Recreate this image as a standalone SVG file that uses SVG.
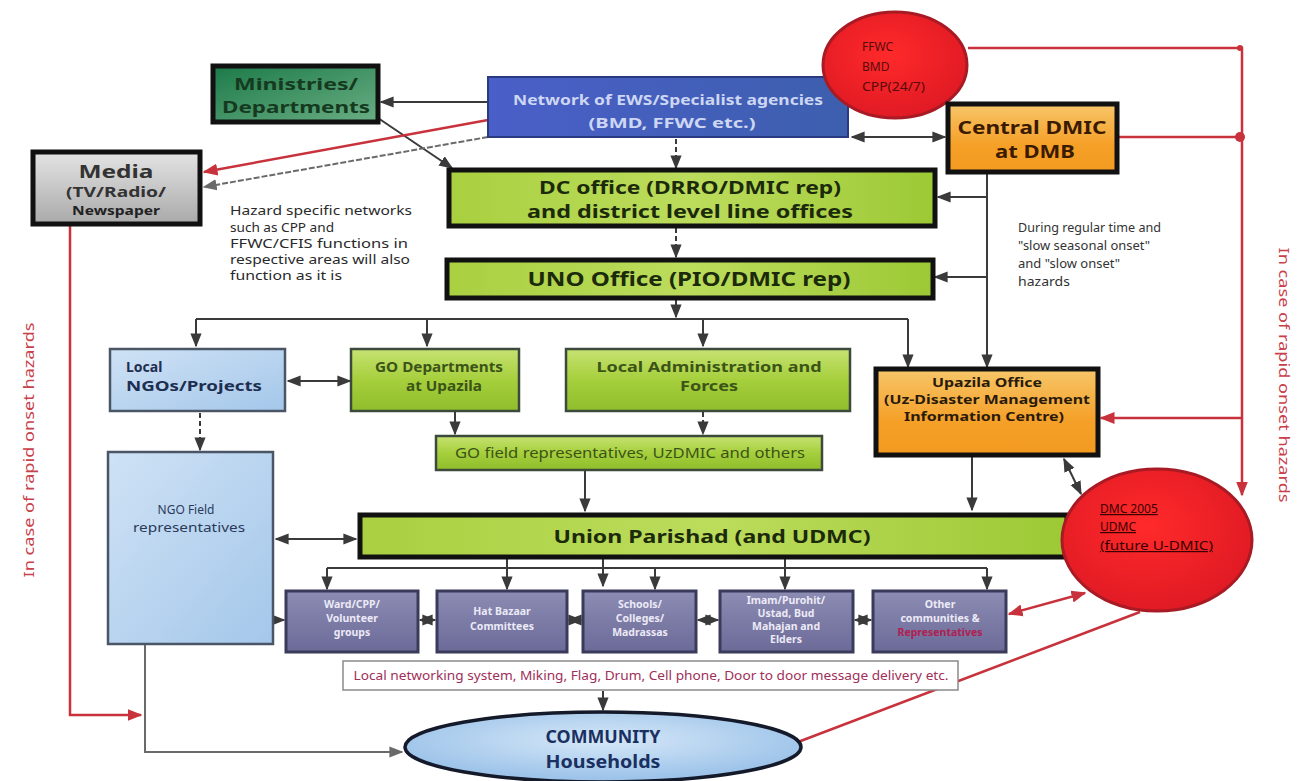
<svg xmlns="http://www.w3.org/2000/svg" width="1297" height="781" viewBox="0 0 1297 781">
<defs>
<style>
text{font-family:"Noto Sans","Open Sans","DejaVu Sans",sans-serif;}
.b{font-weight:bold;}
.c{text-anchor:middle;}
.ln{fill:none;stroke:#3a3a3a;stroke-width:2;}
.lnd{fill:none;stroke:#3a3a3a;stroke-width:2;stroke-dasharray:5 3;}
.red{fill:none;stroke:#c8323c;stroke-width:2.5;}
.gry{fill:none;stroke:#6a6a6a;stroke-width:2;}
.thick{stroke:#111;stroke-width:5;}
.thin{stroke:#3c4a3c;stroke-width:2.5;}
</style>
<linearGradient id="gLime" x1="0" y1="0" x2="0" y2="1"><stop offset="0" stop-color="#c6e272"/><stop offset="0.5" stop-color="#a6cf3c"/><stop offset="1" stop-color="#8fbd2c"/></linearGradient>
<linearGradient id="gLimeH" x1="0" y1="0" x2="1" y2="0"><stop offset="0" stop-color="#a9d040"/><stop offset="0.5" stop-color="#bcdc5c"/><stop offset="1" stop-color="#9dc935"/></linearGradient>
<linearGradient id="gOrange" x1="0" y1="0" x2="0" y2="1"><stop offset="0" stop-color="#f7c66a"/><stop offset="0.6" stop-color="#f5a028"/><stop offset="1" stop-color="#f39a20"/></linearGradient>
<linearGradient id="gBlueL" x1="0" y1="0" x2="1" y2="1"><stop offset="0" stop-color="#cfe2f5"/><stop offset="1" stop-color="#a4c7ea"/></linearGradient>
<linearGradient id="gGray" x1="0" y1="0" x2="0" y2="1"><stop offset="0" stop-color="#e4e4e4"/><stop offset="1" stop-color="#a9a9a9"/></linearGradient>
<linearGradient id="gGreen" x1="0" y1="0" x2="1" y2="1"><stop offset="0" stop-color="#1c7a48"/><stop offset="1" stop-color="#6aae84"/></linearGradient>
<linearGradient id="gBlue" x1="0" y1="0" x2="1" y2="0"><stop offset="0" stop-color="#4a5fc8"/><stop offset="1" stop-color="#3d5fae"/></linearGradient>
<linearGradient id="gPurp" x1="0" y1="0" x2="0" y2="1"><stop offset="0" stop-color="#8c8cb4"/><stop offset="1" stop-color="#6c6a98"/></linearGradient>
<radialGradient id="gRed" cx="0.45" cy="0.4" r="0.6"><stop offset="0" stop-color="#ff2a2a"/><stop offset="1" stop-color="#e01a24"/></radialGradient>
<radialGradient id="gComm" cx="0.5" cy="0.4" r="0.6"><stop offset="0" stop-color="#d6e8f8"/><stop offset="1" stop-color="#98c0e8"/></radialGradient>
<marker id="a" viewBox="0 0 10 10" refX="9" refY="5" markerWidth="7" markerHeight="7" orient="auto-start-reverse"><path d="M0,1 L10,5 L0,9 z" fill="#3a3a3a"/></marker>
<marker id="ar" viewBox="0 0 10 10" refX="9" refY="5" markerWidth="6" markerHeight="6" orient="auto-start-reverse"><path d="M0,1 L10,5 L0,9 z" fill="#c8323c"/></marker>
<marker id="ag" viewBox="0 0 10 10" refX="9" refY="5" markerWidth="7" markerHeight="7" orient="auto-start-reverse"><path d="M0,1 L10,5 L0,9 z" fill="#6a6a6a"/></marker>
<marker id="dr" viewBox="0 0 10 10" refX="5" refY="5" markerWidth="5" markerHeight="5"><circle cx="5" cy="5" r="4" fill="#c8323c"/></marker>
</defs>
<rect width="1297" height="781" fill="#ffffff"/>

<g id="connectors">
<line class="ln" x1="488" y1="102" x2="381" y2="102" marker-end="url(#a)"/>
<line class="ln" x1="378" y1="118" x2="452" y2="168" marker-end="url(#a)"/>
<line class="red" x1="488" y1="120" x2="204" y2="172" marker-end="url(#ar)"/>
<line class="gry" x1="488" y1="137" x2="204" y2="187" stroke-dasharray="6 2" marker-end="url(#ag)"/>
<line class="lnd" x1="676" y1="139" x2="676" y2="168" marker-end="url(#a)"/>
<line class="ln" x1="852" y1="137" x2="945" y2="137" marker-start="url(#a)" marker-end="url(#a)"/>
<path class="red" d="M968,48 H1242 V495" marker-end="url(#ar)"/>
<line class="red" x1="1117" y1="137" x2="1240" y2="137" marker-end="url(#dr)"/>
<circle cx="1240" cy="48" r="3" fill="#c8323c"/>
<line class="red" x1="1242" y1="418" x2="1101" y2="418" marker-end="url(#ar)"/>
<line class="ln" x1="987" y1="172" x2="987" y2="367" marker-end="url(#a)"/>
<line class="ln" x1="987" y1="197" x2="938" y2="197" marker-end="url(#a)"/>
<line class="ln" x1="987" y1="277" x2="935" y2="277" marker-end="url(#a)"/>
<line class="lnd" x1="676" y1="228" x2="676" y2="257" marker-end="url(#a)"/>
<line class="ln" x1="676" y1="300" x2="676" y2="317" marker-end="url(#a)"/>
<line class="ln" x1="196" y1="319" x2="908" y2="319"/>
<line class="ln" x1="196" y1="319" x2="196" y2="346" marker-end="url(#a)"/>
<line class="ln" x1="427" y1="319" x2="427" y2="346" marker-end="url(#a)"/>
<line class="ln" x1="703" y1="319" x2="703" y2="346" marker-end="url(#a)"/>
<line class="ln" x1="908" y1="319" x2="908" y2="367" marker-end="url(#a)"/>
<line class="ln" x1="288" y1="381" x2="350" y2="381" marker-start="url(#a)" marker-end="url(#a)"/>
<line class="lnd" x1="200" y1="413" x2="200" y2="450" marker-end="url(#a)"/>
<line class="ln" x1="455" y1="412" x2="455" y2="434" marker-end="url(#a)"/>
<line class="lnd" x1="703" y1="412" x2="703" y2="434" marker-end="url(#a)"/>
<line class="ln" x1="585" y1="471" x2="585" y2="511" marker-end="url(#a)"/>
<line class="ln" x1="276" y1="539" x2="356" y2="539" marker-start="url(#a)" marker-end="url(#a)"/>
<line class="ln" x1="972" y1="456" x2="972" y2="510" marker-end="url(#a)"/>
<line class="ln" x1="1064" y1="459" x2="1081" y2="494" marker-start="url(#a)" marker-end="url(#a)"/>
<line class="ln" x1="327" y1="568" x2="987" y2="568"/>
<line class="ln" x1="507" y1="558" x2="507" y2="568"/>
<line class="ln" x1="603" y1="558" x2="603" y2="568"/>
<line class="ln" x1="785" y1="558" x2="785" y2="568"/>
<line class="ln" x1="327" y1="568" x2="327" y2="589" marker-end="url(#a)"/>
<line class="ln" x1="507" y1="568" x2="507" y2="589" marker-end="url(#a)"/>
<line class="ln" x1="603" y1="568" x2="603" y2="586" marker-end="url(#a)"/>
<line class="ln" x1="655" y1="568" x2="655" y2="589" marker-end="url(#a)"/>
<line class="ln" x1="785" y1="568" x2="785" y2="589" marker-end="url(#a)"/>
<line class="ln" x1="987" y1="568" x2="987" y2="589" marker-end="url(#a)"/>
<line class="ln" x1="275" y1="620" x2="284" y2="620" marker-end="url(#a)"/>
<line class="ln" x1="420" y1="620" x2="435" y2="620" marker-start="url(#a)" marker-end="url(#a)"/>
<line class="ln" x1="569" y1="620" x2="581" y2="620" marker-start="url(#a)" marker-end="url(#a)"/>
<line class="ln" x1="698" y1="620" x2="718" y2="620" marker-start="url(#a)" marker-end="url(#a)"/>
<line class="ln" x1="855" y1="620" x2="871" y2="620" marker-start="url(#a)" marker-end="url(#a)"/>
<line class="red" x1="1085" y1="593" x2="1009" y2="614" marker-start="url(#ar)" marker-end="url(#ar)"/>
<line class="ln" x1="603" y1="691" x2="603" y2="710" marker-end="url(#a)"/>
<path class="red" d="M70,225 V715 H141" marker-end="url(#ar)"/>
<path class="gry" d="M145,645 V752 H402" marker-end="url(#ag)"/>
<line class="red" x1="1140" y1="612" x2="798" y2="742"/>
</g>

<g id="ministries">
<rect x="213" y="66" width="165" height="56" fill="url(#gGreen)" class="thick"/>
<text x="296" y="90" class="b c" font-size="16" fill="#163a20" textLength="124" lengthAdjust="spacingAndGlyphs">Ministries/</text>
<text x="296" y="113" class="b c" font-size="16" fill="#163a20" textLength="148" lengthAdjust="spacingAndGlyphs">Departments</text>
</g>

<g id="ews-agencies">
<rect x="488" y="77" width="360" height="60" fill="url(#gBlue)" stroke="#2a3a80" stroke-width="2"/>
<text x="668" y="105" class="b c" font-size="15" fill="#cdd6f2" textLength="310" lengthAdjust="spacingAndGlyphs">Network of EWS/Specialist agencies</text>
<text x="672" y="128" class="b c" font-size="15" fill="#cdd6f2" textLength="167" lengthAdjust="spacingAndGlyphs">(BMD, FFWC etc.)</text>
</g>

<g id="ews-red">
<ellipse cx="895" cy="65" rx="72" ry="53" fill="url(#gRed)" stroke="#a81a24" stroke-width="3"/>
<text x="862" y="51" font-size="12" fill="#5a0a0a">FFWC</text>
<text x="862" y="71" font-size="12" fill="#5a0a0a">BMD</text>
<text x="862" y="91" font-size="12" fill="#5a0a0a" textLength="63" lengthAdjust="spacingAndGlyphs">CPP(24/7)</text>
</g>

<g id="central-dmic">
<rect x="948" y="104" width="169" height="68" fill="url(#gOrange)" class="thick"/>
<text x="1032" y="134" class="b c" font-size="18" fill="#3a1a00" textLength="149" lengthAdjust="spacingAndGlyphs">Central DMIC</text>
<text x="1035" y="158" class="b c" font-size="18" fill="#3a1a00" textLength="80" lengthAdjust="spacingAndGlyphs">at DMB</text>
</g>

<g id="media">
<rect x="33" y="152" width="167" height="72" fill="url(#gGray)" class="thick"/>
<text x="116" y="178" class="b c" font-size="18" fill="#333" textLength="75" lengthAdjust="spacingAndGlyphs">Media</text>
<text x="116" y="197" class="b c" font-size="14" fill="#333" textLength="100" lengthAdjust="spacingAndGlyphs">(TV/Radio/</text>
<text x="116" y="215" class="b c" font-size="12" fill="#222" textLength="88" lengthAdjust="spacingAndGlyphs">Newspaper</text>
</g>

<g id="dc-office">
<rect x="449" y="170" width="486" height="56" fill="url(#gLimeH)" class="thick"/>
<text x="690" y="194" class="b c" font-size="18" fill="#1c2a0c" textLength="302" lengthAdjust="spacingAndGlyphs">DC office (DRRO/DMIC rep)</text>
<text x="690" y="218" class="b c" font-size="18" fill="#1c2a0c" textLength="326" lengthAdjust="spacingAndGlyphs">and district level line offices</text>
</g>

<g id="hazard-note">
<text x="230" y="215" font-size="13" fill="#2a2a2a" textLength="182" lengthAdjust="spacingAndGlyphs">Hazard specific networks</text>
<text x="230" y="232" font-size="13" fill="#2a2a2a" textLength="104" lengthAdjust="spacingAndGlyphs">such as CPP and</text>
<text x="230" y="248" font-size="13" fill="#2a2a2a" textLength="178" lengthAdjust="spacingAndGlyphs">FFWC/CFIS functions in</text>
<text x="230" y="264" font-size="13" fill="#2a2a2a" textLength="180" lengthAdjust="spacingAndGlyphs">respective areas will also</text>
<text x="230" y="280" font-size="13" fill="#2a2a2a" textLength="112" lengthAdjust="spacingAndGlyphs">function as it is</text>
</g>

<g id="uno-office">
<rect x="447" y="260" width="486" height="38" fill="url(#gLimeH)" class="thick"/>
<text x="689" y="286" class="b c" font-size="19" fill="#1c2a0c" textLength="323" lengthAdjust="spacingAndGlyphs">UNO Office (PIO/DMIC rep)</text>
</g>

<g id="regular-note">
<text x="1018" y="232" font-size="12.5" fill="#333" textLength="143" lengthAdjust="spacingAndGlyphs">During regular time and</text>
<text x="1018" y="250" font-size="12.5" fill="#333" textLength="132" lengthAdjust="spacingAndGlyphs">"slow seasonal onset"</text>
<text x="1018" y="268" font-size="12.5" fill="#333" textLength="102" lengthAdjust="spacingAndGlyphs">and "slow onset"</text>
<text x="1018" y="286" font-size="12.5" fill="#333" textLength="52" lengthAdjust="spacingAndGlyphs">hazards</text>
</g>

<g id="rapid-right">
<text transform="translate(1279,375) rotate(90)" class="c" font-size="15" fill="#c8404a" textLength="255" lengthAdjust="spacingAndGlyphs">In case of rapid onset hazards</text>
</g>
<g id="rapid-left">
<text transform="translate(34,450) rotate(-90)" class="c" font-size="15" fill="#c8404a" textLength="255" lengthAdjust="spacingAndGlyphs">In case of rapid onset hazards</text>
</g>

<g id="local-ngos">
<rect x="110" y="349" width="175" height="62" fill="url(#gBlueL)" stroke="#4a5666" stroke-width="2.5"/>
<text x="126" y="372" class="b" font-size="14" fill="#1e2e50">Local</text>
<text x="126" y="391" class="b" font-size="14" fill="#1e2e50" textLength="136" lengthAdjust="spacingAndGlyphs">NGOs/Projects</text>
</g>

<g id="go-departments">
<rect x="351" y="349" width="168" height="62" fill="url(#gLime)" class="thin"/>
<text x="439" y="372" class="b c" font-size="14" fill="#3c5418" textLength="128" lengthAdjust="spacingAndGlyphs">GO Departments</text>
<text x="444" y="391" class="b c" font-size="14" fill="#3c5418" textLength="76" lengthAdjust="spacingAndGlyphs">at Upazila</text>
</g>

<g id="local-admin">
<rect x="566" y="349" width="284" height="62" fill="url(#gLime)" class="thin"/>
<text x="709" y="372" class="b c" font-size="14" fill="#3c5418" textLength="225" lengthAdjust="spacingAndGlyphs">Local Administration and</text>
<text x="709" y="391" class="b c" font-size="14" fill="#3c5418" textLength="58" lengthAdjust="spacingAndGlyphs">Forces</text>
</g>

<g id="upazila-office">
<rect x="876" y="369" width="222" height="86" fill="url(#gOrange)" class="thick"/>
<text x="987" y="387" class="b c" font-size="13" fill="#2a1a0a" textLength="110" lengthAdjust="spacingAndGlyphs">Upazila Office</text>
<text x="987" y="404" class="b c" font-size="13" fill="#2a1a0a" textLength="206" lengthAdjust="spacingAndGlyphs">(Uz-Disaster Management</text>
<text x="984" y="421" class="b c" font-size="13" fill="#2a1a0a" textLength="160" lengthAdjust="spacingAndGlyphs">Information Centre)</text>
</g>

<g id="go-field">
<rect x="436" y="436" width="386" height="34" fill="url(#gLime)" class="thin"/>
<text x="630" y="458" class="c" font-size="14" fill="#3c5418" textLength="350" lengthAdjust="spacingAndGlyphs">GO field representatives, UzDMIC and others</text>
</g>

<g id="ngo-field">
<rect x="108" y="452" width="165" height="192" fill="url(#gBlueL)" stroke="#4a5666" stroke-width="2.5"/>
<text x="186" y="514" class="c" font-size="12" fill="#2a3a5a">NGO Field</text>
<text x="189" y="532" class="c" font-size="12" fill="#2a3a5a" textLength="112" lengthAdjust="spacingAndGlyphs">representatives</text>
</g>

<g id="union-parishad">
<rect x="360" y="515" width="707" height="42" fill="url(#gLimeH)" class="thick"/>
<text x="712" y="543" class="b c" font-size="18" fill="#1c2a0c" textLength="317" lengthAdjust="spacingAndGlyphs">Union Parishad (and UDMC)</text>
</g>

<g id="udmc-red">
<ellipse cx="1157" cy="540" rx="95" ry="71" fill="url(#gRed)" stroke="#a81a24" stroke-width="3"/>
<text x="1100" y="513" font-size="12" fill="#3a0000" text-decoration="underline">DMC 2005</text>
<text x="1100" y="531" font-size="12" fill="#3a0000" text-decoration="underline">UDMC</text>
<text x="1100" y="550" font-size="12" fill="#3a0000" text-decoration="underline" textLength="113" lengthAdjust="spacingAndGlyphs">(future U-DMIC)</text>
</g>

<g id="ward-volunteers">
<rect x="286" y="591" width="132" height="61" fill="url(#gPurp)" stroke="#3a3a5a" stroke-width="3"/>
<text x="352" y="608" class="b c" font-size="10.5" fill="#eceaf6">Ward/CPP/</text>
<text x="352" y="622" class="b c" font-size="10.5" fill="#eceaf6">Volunteer</text>
<text x="352" y="636" class="b c" font-size="10.5" fill="#eceaf6">groups</text>
</g>
<g id="hat-bazaar">
<rect x="437" y="591" width="130" height="61" fill="url(#gPurp)" stroke="#3a3a5a" stroke-width="3"/>
<text x="502" y="615" class="b c" font-size="10.5" fill="#eceaf6">Hat Bazaar</text>
<text x="502" y="630" class="b c" font-size="10.5" fill="#eceaf6">Committees</text>
</g>
<g id="schools">
<rect x="583" y="591" width="113" height="61" fill="url(#gPurp)" stroke="#3a3a5a" stroke-width="3"/>
<text x="640" y="608" class="b c" font-size="10.5" fill="#eceaf6">Schools/</text>
<text x="640" y="622" class="b c" font-size="10.5" fill="#eceaf6">Colleges/</text>
<text x="640" y="636" class="b c" font-size="10.5" fill="#eceaf6">Madrassas</text>
</g>
<g id="religious-leaders">
<rect x="720" y="591" width="133" height="61" fill="url(#gPurp)" stroke="#3a3a5a" stroke-width="3"/>
<text x="786" y="604" class="b c" font-size="10.5" fill="#eceaf6">Imam/Purohit/</text>
<text x="786" y="617" class="b c" font-size="10.5" fill="#eceaf6">Ustad, Bud</text>
<text x="786" y="630" class="b c" font-size="10.5" fill="#eceaf6">Mahajan and</text>
<text x="786" y="643" class="b c" font-size="10.5" fill="#eceaf6">Elders</text>
</g>
<g id="local-elites">
<rect x="873" y="591" width="133" height="61" fill="url(#gPurp)" stroke="#3a3a5a" stroke-width="3"/>
<text x="940" y="608" class="b c" font-size="10.5" fill="#eceaf6">Other</text>
<text x="940" y="622" class="b c" font-size="10.5" fill="#eceaf6">communities &amp;</text>
<text x="940" y="636" class="b c" font-size="10.5" fill="#b02050">Representatives</text>
</g>

<g id="local-networking">
<rect x="343" y="661" width="615" height="29" fill="#ffffff" stroke="#8a8a8a" stroke-width="1.5"/>
<text x="651" y="680" class="c" font-size="12" fill="#a0305a" textLength="595" lengthAdjust="spacingAndGlyphs">Local networking system, Miking, Flag, Drum, Cell phone, Door to door message delivery etc.</text>
</g>

<g id="community">
<ellipse cx="603" cy="747" rx="198" ry="35" fill="url(#gComm)" stroke="#141a2a" stroke-width="3.5"/>
<text x="603" y="743" class="b c" font-size="17" fill="#1a3060" textLength="115" lengthAdjust="spacingAndGlyphs">COMMUNITY</text>
<text x="603" y="768" class="b c" font-size="17" fill="#1a3060" textLength="115" lengthAdjust="spacingAndGlyphs">Households</text>
</g>
</svg>
